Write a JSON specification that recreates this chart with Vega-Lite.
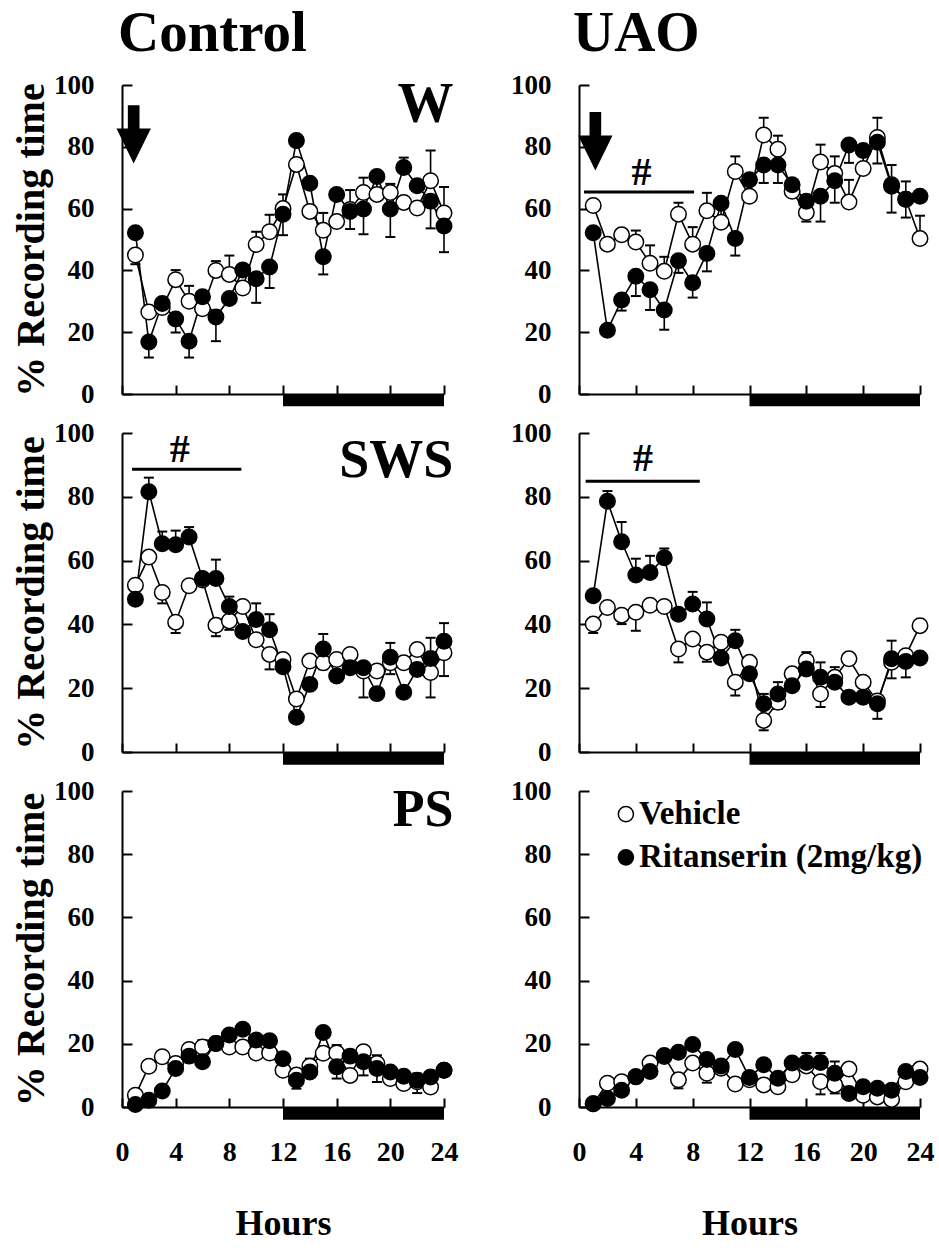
{
  "$schema": "https://vega.github.io/schema/vega-lite/v6.json",
  "background": "white",
  "padding": {"left": 11, "top": 5, "right": 5, "bottom": 5},
  "bounds": "flush",
  "columns": 2,
  "spacing": {"row": 39, "column": 135},
  "config": {
    "view": {"stroke": null},
    "axis": {"grid": false, "domainColor": "black", "domainWidth": 2, "tickColor": "black", "tickWidth": 2, "labelFont": "Liberation Serif", "labelFontWeight": "bold", "labelColor": "black", "titleFont": "Liberation Serif", "titleFontWeight": "bold", "titleColor": "black", "labelOverlap": false, "labelBound": false, "labelFlush": false},
    "axisX": {"tickSize": -9, "labelFontSize": 28, "labelPadding": 40, "titleFontSize": 36, "titlePadding": 40},
    "axisY": {"tickSize": -10, "labelFontSize": 27, "labelPadding": 38, "titleFontSize": 40, "titlePadding": 2},
    "title": {"font": "Liberation Serif", "fontWeight": "bold", "fontSize": 57, "color": "black", "anchor": "start", "frame": "group"}
  },
  "datasets": {
    "d": [
      {"p":"CW","g":"V","h":1,"v":45,"e":42},{"p":"CW","g":"V","h":2,"v":26.5,"e":26.5},{"p":"CW","g":"V","h":3,"v":28,"e":28},{"p":"CW","g":"V","h":4,"v":37,"e":40.1},{"p":"CW","g":"V","h":5,"v":30,"e":35},{"p":"CW","g":"V","h":6,"v":27.6,"e":27.6},{"p":"CW","g":"V","h":7,"v":40,"e":43},{"p":"CW","g":"V","h":8,"v":38.7,"e":44.8},{"p":"CW","g":"V","h":9,"v":34.3,"e":34.3},{"p":"CW","g":"V","h":10,"v":48.4,"e":52.5},{"p":"CW","g":"V","h":11,"v":52.5,"e":58},{"p":"CW","g":"V","h":12,"v":60,"e":64.6},{"p":"CW","g":"V","h":13,"v":74.3,"e":74.3},{"p":"CW","g":"V","h":14,"v":59.1,"e":59.1},{"p":"CW","g":"V","h":15,"v":53,"e":58.6},{"p":"CW","g":"V","h":16,"v":55.8,"e":55.8},{"p":"CW","g":"V","h":17,"v":59.7,"e":66},{"p":"CW","g":"V","h":18,"v":65.2,"e":70},{"p":"CW","g":"V","h":19,"v":64.6,"e":70},{"p":"CW","g":"V","h":20,"v":65.2,"e":68},{"p":"CW","g":"V","h":21,"v":62,"e":62},{"p":"CW","g":"V","h":22,"v":60.2,"e":60.2},{"p":"CW","g":"V","h":23,"v":69,"e":78.8},{"p":"CW","g":"V","h":24,"v":58.6,"e":67},
      {"p":"CW","g":"R","h":1,"v":52.2,"e":52.2},{"p":"CW","g":"R","h":2,"v":16.8,"e":11.8},{"p":"CW","g":"R","h":3,"v":29.3,"e":29.3},{"p":"CW","g":"R","h":4,"v":24.3,"e":19.9},{"p":"CW","g":"R","h":5,"v":17.1,"e":11.8},{"p":"CW","g":"R","h":6,"v":31.5,"e":31.5},{"p":"CW","g":"R","h":7,"v":24.9,"e":17.1},{"p":"CW","g":"R","h":8,"v":30.9,"e":30.9},{"p":"CW","g":"R","h":9,"v":40.1,"e":40.1},{"p":"CW","g":"R","h":10,"v":37.3,"e":29.5},{"p":"CW","g":"R","h":11,"v":41.1,"e":34.3},{"p":"CW","g":"R","h":12,"v":58.2,"e":51.4},{"p":"CW","g":"R","h":13,"v":82,"e":82},{"p":"CW","g":"R","h":14,"v":68.2,"e":68.2},{"p":"CW","g":"R","h":15,"v":44.4,"e":38.7},{"p":"CW","g":"R","h":16,"v":64.6,"e":64.6},{"p":"CW","g":"R","h":17,"v":59.1,"e":53.4},{"p":"CW","g":"R","h":18,"v":59.9,"e":51.7},{"p":"CW","g":"R","h":19,"v":70.4,"e":70.4},{"p":"CW","g":"R","h":20,"v":59.9,"e":50.8},{"p":"CW","g":"R","h":21,"v":73.3,"e":76.5},{"p":"CW","g":"R","h":22,"v":67.4,"e":67.4},{"p":"CW","g":"R","h":23,"v":62.4,"e":53.6},{"p":"CW","g":"R","h":24,"v":54.4,"e":45.9},
      {"p":"UW","g":"V","h":1,"v":61,"e":61},{"p":"UW","g":"V","h":2,"v":48.5,"e":48.5},{"p":"UW","g":"V","h":3,"v":51.5,"e":51.5},{"p":"UW","g":"V","h":4,"v":49.2,"e":52.9},{"p":"UW","g":"V","h":5,"v":42.3,"e":48.1},{"p":"UW","g":"V","h":6,"v":39.7,"e":44.4},{"p":"UW","g":"V","h":7,"v":58.2,"e":61.9},{"p":"UW","g":"V","h":8,"v":48.5,"e":54},{"p":"UW","g":"V","h":9,"v":59.3,"e":65.1},{"p":"UW","g":"V","h":10,"v":55.6,"e":55.6},{"p":"UW","g":"V","h":11,"v":72,"e":76.9},{"p":"UW","g":"V","h":12,"v":64,"e":64},{"p":"UW","g":"V","h":13,"v":83.8,"e":89.4},{"p":"UW","g":"V","h":14,"v":79.2,"e":83.6},{"p":"UW","g":"V","h":15,"v":65.6,"e":65.6},{"p":"UW","g":"V","h":16,"v":58.7,"e":58.7},{"p":"UW","g":"V","h":17,"v":75.1,"e":80.7},{"p":"UW","g":"V","h":18,"v":71.4,"e":76.9},{"p":"UW","g":"V","h":19,"v":62.1,"e":69.3},{"p":"UW","g":"V","h":20,"v":73,"e":76.9},{"p":"UW","g":"V","h":21,"v":83,"e":89.4},{"p":"UW","g":"V","h":22,"v":67.7,"e":74.1},{"p":"UW","g":"V","h":23,"v":63,"e":68.8},{"p":"UW","g":"V","h":24,"v":50.3,"e":57.7},
      {"p":"UW","g":"R","h":1,"v":52.2,"e":52.2},{"p":"UW","g":"R","h":2,"v":20.6,"e":20.6},{"p":"UW","g":"R","h":3,"v":30.4,"e":27},{"p":"UW","g":"R","h":4,"v":38.1,"e":31.7},{"p":"UW","g":"R","h":5,"v":33.7,"e":27.2},{"p":"UW","g":"R","h":6,"v":27.2,"e":20.8},{"p":"UW","g":"R","h":7,"v":43.1,"e":39.2},{"p":"UW","g":"R","h":8,"v":36,"e":31.2},{"p":"UW","g":"R","h":9,"v":45.5,"e":39.7},{"p":"UW","g":"R","h":10,"v":61.7,"e":54},{"p":"UW","g":"R","h":11,"v":50.3,"e":44.8},{"p":"UW","g":"R","h":12,"v":69.3,"e":69.3},{"p":"UW","g":"R","h":13,"v":74.1,"e":68.3},{"p":"UW","g":"R","h":14,"v":74.1,"e":68.3},{"p":"UW","g":"R","h":15,"v":67.7,"e":67.7},{"p":"UW","g":"R","h":16,"v":62.4,"e":55.8},{"p":"UW","g":"R","h":17,"v":64,"e":55.8},{"p":"UW","g":"R","h":18,"v":69,"e":61.9},{"p":"UW","g":"R","h":19,"v":80.6,"e":74.8},{"p":"UW","g":"R","h":20,"v":78.8,"e":78.8},{"p":"UW","g":"R","h":21,"v":81.5,"e":74.6},{"p":"UW","g":"R","h":22,"v":67.2,"e":58.7},{"p":"UW","g":"R","h":23,"v":63,"e":57.1},{"p":"UW","g":"R","h":24,"v":64,"e":64},
      {"p":"CS","g":"V","h":1,"v":52.3,"e":52.3},{"p":"CS","g":"V","h":2,"v":61.1,"e":61.1},{"p":"CS","g":"V","h":3,"v":50,"e":46.6},{"p":"CS","g":"V","h":4,"v":40.7,"e":37.3},{"p":"CS","g":"V","h":5,"v":52.1,"e":52.1},{"p":"CS","g":"V","h":6,"v":53.9,"e":53.9},{"p":"CS","g":"V","h":7,"v":39.7,"e":36.3},{"p":"CS","g":"V","h":8,"v":41.1,"e":38.3},{"p":"CS","g":"V","h":9,"v":45.6,"e":45.6},{"p":"CS","g":"V","h":10,"v":35.2,"e":35.2},{"p":"CS","g":"V","h":11,"v":30.6,"e":25.9},{"p":"CS","g":"V","h":12,"v":29,"e":29},{"p":"CS","g":"V","h":13,"v":16.6,"e":16.6},{"p":"CS","g":"V","h":14,"v":28.5,"e":28.5},{"p":"CS","g":"V","h":15,"v":28,"e":25.9},{"p":"CS","g":"V","h":16,"v":29,"e":29},{"p":"CS","g":"V","h":17,"v":30.6,"e":30.6},{"p":"CS","g":"V","h":18,"v":25.4,"e":17.1},{"p":"CS","g":"V","h":19,"v":25.4,"e":25.4},{"p":"CS","g":"V","h":20,"v":28,"e":24.4},{"p":"CS","g":"V","h":21,"v":28,"e":28},{"p":"CS","g":"V","h":22,"v":32.1,"e":32.1},{"p":"CS","g":"V","h":23,"v":24.9,"e":17.1},{"p":"CS","g":"V","h":24,"v":31.1,"e":23.8},
      {"p":"CS","g":"R","h":1,"v":47.9,"e":47.9},{"p":"CS","g":"R","h":2,"v":81.6,"e":86},{"p":"CS","g":"R","h":3,"v":65.3,"e":69.1},{"p":"CS","g":"R","h":4,"v":65,"e":69.4},{"p":"CS","g":"R","h":5,"v":67.4,"e":70.5},{"p":"CS","g":"R","h":6,"v":54.4,"e":54.4},{"p":"CS","g":"R","h":7,"v":54.4,"e":60.3},{"p":"CS","g":"R","h":8,"v":45.6,"e":48.7},{"p":"CS","g":"R","h":9,"v":37.8,"e":37.8},{"p":"CS","g":"R","h":10,"v":41.5,"e":46.6},{"p":"CS","g":"R","h":11,"v":38.3,"e":43.2},{"p":"CS","g":"R","h":12,"v":26.7,"e":26.7},{"p":"CS","g":"R","h":13,"v":10.9,"e":10.9},{"p":"CS","g":"R","h":14,"v":21.2,"e":21.2},{"p":"CS","g":"R","h":15,"v":32.3,"e":37},{"p":"CS","g":"R","h":16,"v":23.8,"e":23.8},{"p":"CS","g":"R","h":17,"v":26.4,"e":26.4},{"p":"CS","g":"R","h":18,"v":26.4,"e":26.4},{"p":"CS","g":"R","h":19,"v":18.3,"e":18.3},{"p":"CS","g":"R","h":20,"v":29.7,"e":34.2},{"p":"CS","g":"R","h":21,"v":18.7,"e":18.7},{"p":"CS","g":"R","h":22,"v":25.9,"e":25.9},{"p":"CS","g":"R","h":23,"v":29.3,"e":35.8},{"p":"CS","g":"R","h":24,"v":34.7,"e":40.4},
      {"p":"US","g":"V","h":1,"v":40.1,"e":37.3},{"p":"US","g":"V","h":2,"v":45.3,"e":45.3},{"p":"US","g":"V","h":3,"v":42.9,"e":40.1},{"p":"US","g":"V","h":4,"v":43.8,"e":38},{"p":"US","g":"V","h":5,"v":46,"e":46},{"p":"US","g":"V","h":6,"v":45.6,"e":45.6},{"p":"US","g":"V","h":7,"v":32.3,"e":28.1},{"p":"US","g":"V","h":8,"v":35.4,"e":35.4},{"p":"US","g":"V","h":9,"v":31.3,"e":28.3},{"p":"US","g":"V","h":10,"v":34.4,"e":34.4},{"p":"US","g":"V","h":11,"v":21.9,"e":17.7},{"p":"US","g":"V","h":12,"v":28.1,"e":28.1},{"p":"US","g":"V","h":13,"v":9.9,"e":6.8},{"p":"US","g":"V","h":14,"v":15.6,"e":13.5},{"p":"US","g":"V","h":15,"v":24.5,"e":24.5},{"p":"US","g":"V","h":16,"v":28.6,"e":28.6},{"p":"US","g":"V","h":17,"v":18.2,"e":14.1},{"p":"US","g":"V","h":18,"v":23.4,"e":23.4},{"p":"US","g":"V","h":19,"v":29.2,"e":29.2},{"p":"US","g":"V","h":20,"v":21.9,"e":21.9},{"p":"US","g":"V","h":21,"v":16,"e":16},{"p":"US","g":"V","h":22,"v":28.1,"e":23.1},{"p":"US","g":"V","h":23,"v":30.2,"e":30.2},{"p":"US","g":"V","h":24,"v":39.6,"e":39.6},
      {"p":"US","g":"R","h":1,"v":49,"e":49},{"p":"US","g":"R","h":2,"v":78.6,"e":81.8},{"p":"US","g":"R","h":3,"v":65.9,"e":72.1},{"p":"US","g":"R","h":4,"v":55.5,"e":60.6},{"p":"US","g":"R","h":5,"v":56.3,"e":61.5},{"p":"US","g":"R","h":6,"v":60.9,"e":63.8},{"p":"US","g":"R","h":7,"v":43.2,"e":43.2},{"p":"US","g":"R","h":8,"v":46.4,"e":50.2},{"p":"US","g":"R","h":9,"v":41.7,"e":46.9},{"p":"US","g":"R","h":10,"v":29.5,"e":29.5},{"p":"US","g":"R","h":11,"v":34.9,"e":38.3},{"p":"US","g":"R","h":12,"v":24.5,"e":29.2},{"p":"US","g":"R","h":13,"v":15.1,"e":18.2},{"p":"US","g":"R","h":14,"v":18.2,"e":21.9},{"p":"US","g":"R","h":15,"v":20.8,"e":20.8},{"p":"US","g":"R","h":16,"v":26,"e":31.3},{"p":"US","g":"R","h":17,"v":23.4,"e":28.1},{"p":"US","g":"R","h":18,"v":21.9,"e":26.6},{"p":"US","g":"R","h":19,"v":17.2,"e":17.2},{"p":"US","g":"R","h":20,"v":17.2,"e":17.2},{"p":"US","g":"R","h":21,"v":15.1,"e":10.4},{"p":"US","g":"R","h":22,"v":29.2,"e":34.9},{"p":"US","g":"R","h":23,"v":28.4,"e":23.4},{"p":"US","g":"R","h":24,"v":29.5,"e":29.5},
      {"p":"CP","g":"V","h":1,"v":3.7,"e":3.7},{"p":"CP","g":"V","h":2,"v":12.9,"e":12.9},{"p":"CP","g":"V","h":3,"v":15.9,"e":17.5},{"p":"CP","g":"V","h":4,"v":13.8,"e":13.8},{"p":"CP","g":"V","h":5,"v":18.2,"e":18.2},{"p":"CP","g":"V","h":6,"v":19,"e":21.2},{"p":"CP","g":"V","h":7,"v":20.1,"e":22.2},{"p":"CP","g":"V","h":8,"v":19,"e":19},{"p":"CP","g":"V","h":9,"v":19,"e":19},{"p":"CP","g":"V","h":10,"v":17.1,"e":17.1},{"p":"CP","g":"V","h":11,"v":17.1,"e":17.1},{"p":"CP","g":"V","h":12,"v":11.6,"e":11.6},{"p":"CP","g":"V","h":13,"v":10.1,"e":10.1},{"p":"CP","g":"V","h":14,"v":12.9,"e":15.3},{"p":"CP","g":"V","h":15,"v":17,"e":17},{"p":"CP","g":"V","h":16,"v":17.1,"e":19.6},{"p":"CP","g":"V","h":17,"v":10,"e":10},{"p":"CP","g":"V","h":18,"v":17.5,"e":19.3},{"p":"CP","g":"V","h":19,"v":13.8,"e":16.4},{"p":"CP","g":"V","h":20,"v":9,"e":9},{"p":"CP","g":"V","h":21,"v":7.4,"e":7.4},{"p":"CP","g":"V","h":22,"v":8,"e":10.6},{"p":"CP","g":"V","h":23,"v":6.3,"e":6.3},{"p":"CP","g":"V","h":24,"v":11.6,"e":11.6},
      {"p":"CP","g":"R","h":1,"v":0.8,"e":0.8},{"p":"CP","g":"R","h":2,"v":2.1,"e":2.1},{"p":"CP","g":"R","h":3,"v":5.1,"e":5.1},{"p":"CP","g":"R","h":4,"v":12.2,"e":12.2},{"p":"CP","g":"R","h":5,"v":16.1,"e":16.1},{"p":"CP","g":"R","h":6,"v":14.3,"e":14.3},{"p":"CP","g":"R","h":7,"v":20.1,"e":20.1},{"p":"CP","g":"R","h":8,"v":22.8,"e":22.8},{"p":"CP","g":"R","h":9,"v":24.6,"e":24.6},{"p":"CP","g":"R","h":10,"v":21.2,"e":21.2},{"p":"CP","g":"R","h":11,"v":21,"e":21},{"p":"CP","g":"R","h":12,"v":15.3,"e":15.3},{"p":"CP","g":"R","h":13,"v":8.5,"e":5.8},{"p":"CP","g":"R","h":14,"v":11.1,"e":11.1},{"p":"CP","g":"R","h":15,"v":23.6,"e":23.6},{"p":"CP","g":"R","h":16,"v":12.7,"e":9},{"p":"CP","g":"R","h":17,"v":16.1,"e":16.1},{"p":"CP","g":"R","h":18,"v":14.3,"e":10},{"p":"CP","g":"R","h":19,"v":12.2,"e":7.9},{"p":"CP","g":"R","h":20,"v":11.1,"e":11.1},{"p":"CP","g":"R","h":21,"v":9.7,"e":9.7},{"p":"CP","g":"R","h":22,"v":8.5,"e":4.4},{"p":"CP","g":"R","h":23,"v":9.5,"e":9.5},{"p":"CP","g":"R","h":24,"v":11.6,"e":11.6},
      {"p":"UP","g":"V","h":1,"v":1,"e":1},{"p":"UP","g":"V","h":2,"v":7.5,"e":7.5},{"p":"UP","g":"V","h":3,"v":8,"e":8},{"p":"UP","g":"V","h":4,"v":9.6,"e":9.6},{"p":"UP","g":"V","h":5,"v":13.9,"e":13.9},{"p":"UP","g":"V","h":6,"v":16,"e":16},{"p":"UP","g":"V","h":7,"v":8.6,"e":5.9},{"p":"UP","g":"V","h":8,"v":13.9,"e":13.9},{"p":"UP","g":"V","h":9,"v":10.7,"e":7.7},{"p":"UP","g":"V","h":10,"v":12.3,"e":12.3},{"p":"UP","g":"V","h":11,"v":7.3,"e":7.3},{"p":"UP","g":"V","h":12,"v":8.6,"e":8.6},{"p":"UP","g":"V","h":13,"v":7,"e":7},{"p":"UP","g":"V","h":14,"v":6.4,"e":6.4},{"p":"UP","g":"V","h":15,"v":10.2,"e":10.2},{"p":"UP","g":"V","h":16,"v":13,"e":17.1},{"p":"UP","g":"V","h":17,"v":8,"e":4},{"p":"UP","g":"V","h":18,"v":7,"e":4.3},{"p":"UP","g":"V","h":19,"v":12,"e":12},{"p":"UP","g":"V","h":20,"v":3.7,"e":3.7},{"p":"UP","g":"V","h":21,"v":3.2,"e":3.2},{"p":"UP","g":"V","h":22,"v":2.4,"e":2.4},{"p":"UP","g":"V","h":23,"v":8,"e":8},{"p":"UP","g":"V","h":24,"v":12,"e":12},
      {"p":"UP","g":"R","h":1,"v":1,"e":1},{"p":"UP","g":"R","h":2,"v":2.7,"e":2.7},{"p":"UP","g":"R","h":3,"v":5.3,"e":5.3},{"p":"UP","g":"R","h":4,"v":9.6,"e":9.6},{"p":"UP","g":"R","h":5,"v":11.2,"e":11.2},{"p":"UP","g":"R","h":6,"v":16.3,"e":16.3},{"p":"UP","g":"R","h":7,"v":17.3,"e":17.3},{"p":"UP","g":"R","h":8,"v":19.8,"e":19.8},{"p":"UP","g":"R","h":9,"v":15,"e":15},{"p":"UP","g":"R","h":10,"v":13,"e":13},{"p":"UP","g":"R","h":11,"v":18.2,"e":18.2},{"p":"UP","g":"R","h":12,"v":9.3,"e":9.3},{"p":"UP","g":"R","h":13,"v":13.4,"e":13.4},{"p":"UP","g":"R","h":14,"v":9.1,"e":9.1},{"p":"UP","g":"R","h":15,"v":13.9,"e":13.9},{"p":"UP","g":"R","h":16,"v":14.1,"e":14.1},{"p":"UP","g":"R","h":17,"v":14.1,"e":17.1},{"p":"UP","g":"R","h":18,"v":10.7,"e":14.4},{"p":"UP","g":"R","h":19,"v":4.3,"e":4.3},{"p":"UP","g":"R","h":20,"v":6.4,"e":6.4},{"p":"UP","g":"R","h":21,"v":5.9,"e":5.9},{"p":"UP","g":"R","h":22,"v":5.3,"e":5.3},{"p":"UP","g":"R","h":23,"v":11.2,"e":11.2},{"p":"UP","g":"R","h":24,"v":9.3,"e":9.3}
    ]
  },
  "concat": [
    {
      "width": 322, "height": 309,
      "title": {"text": "Control", "offset": 8, "dx": -4},
      "data": {"name": "d"},
      "transform": [{"filter": "datum.p === 'CW'"}],
      "layer": [
        {"data": {"values": [{"h": 12, "h2": 24}]}, "mark": {"type": "rect", "color": "black"}, "encoding": {"x": {"field": "h", "type": "quantitative"}, "x2": {"field": "h2"}, "y": {"datum": 0, "type": "quantitative"}, "y2": {"datum": -4}}},
        {"data": {"values": [{"h": 0.87, "v": 84}]}, "mark": {"type": "point", "shape": "M-0.2,-1L0.2,-1L0.2,-0.2L0.59,-0.2L0,1L-0.59,-0.2L-0.2,-0.2Z", "size": 3400, "filled": true, "fill": "black", "strokeWidth": 0, "opacity": 1}, "encoding": {"x": {"field": "h", "type": "quantitative"}, "y": {"field": "v", "type": "quantitative"}}},
        {"mark": {"type": "rule", "color": "black", "strokeWidth": 1.6}, "encoding": {"x": {"field": "h", "type": "quantitative"}, "y": {"field": "v", "type": "quantitative"}, "y2": {"field": "e"}}},
        {"mark": {"type": "tick", "orient": "horizontal", "color": "black", "size": 10, "thickness": 2, "opacity": 1}, "encoding": {"x": {"field": "h", "type": "quantitative"}, "y": {"field": "e", "type": "quantitative"}}},
        {"mark": {"type": "line", "color": "black", "strokeWidth": 1.6}, "encoding": {"x": {"field": "h", "type": "quantitative", "scale": {"domain": [0, 24], "nice": false}, "axis": {"values": [0,2,4,6,8,10,12,14,16,18,20,22,24], "labels": false, "title": null}}, "y": {"field": "v", "type": "quantitative", "scale": {"domain": [0, 100], "nice": false}, "axis": {"values": [0,20,40,60,80,100], "title": "% Recording time"}}, "detail": {"field": "g"}}},
        {"transform": [{"filter": "datum.g === 'V'"}], "mark": {"type": "circle", "size": 240, "fill": "white", "stroke": "black", "strokeWidth": 1.5, "opacity": 1}, "encoding": {"x": {"field": "h", "type": "quantitative"}, "y": {"field": "v", "type": "quantitative"}}},
        {"transform": [{"filter": "datum.g === 'R'"}], "mark": {"type": "circle", "size": 240, "fill": "black", "stroke": "black", "strokeWidth": 1.5, "opacity": 1}, "encoding": {"x": {"field": "h", "type": "quantitative"}, "y": {"field": "v", "type": "quantitative"}}},
        {"data": {"values": [{"h": 24.7, "v": 93.4, "t": "W"}]}, "mark": {"type": "text", "font": "Liberation Serif", "fontWeight": "bold", "fontSize": 56, "align": "right", "baseline": "middle", "color": "black"}, "encoding": {"x": {"field": "h", "type": "quantitative"}, "y": {"field": "v", "type": "quantitative"}, "text": {"field": "t"}}}
      ]
    },
    {
      "width": 341, "height": 309,
      "title": {"text": "UAO", "offset": 8, "dx": -6},
      "data": {"name": "d"},
      "transform": [{"filter": "datum.p === 'UW'"}],
      "layer": [
        {"data": {"values": [{"h": 12, "h2": 24}]}, "mark": {"type": "rect", "color": "black"}, "encoding": {"x": {"field": "h", "type": "quantitative"}, "x2": {"field": "h2"}, "y": {"datum": 0, "type": "quantitative"}, "y2": {"datum": -4}}},
        {"data": {"values": [{"h": 1.15, "v": 81.8}]}, "mark": {"type": "point", "shape": "M-0.2,-1L0.2,-1L0.2,-0.2L0.59,-0.2L0,1L-0.59,-0.2L-0.2,-0.2Z", "size": 3400, "filled": true, "fill": "black", "strokeWidth": 0, "opacity": 1}, "encoding": {"x": {"field": "h", "type": "quantitative"}, "y": {"field": "v", "type": "quantitative"}}},
        {"data": {"values": [{"h": 0.35, "h2": 8.1, "v": 65.4}]}, "mark": {"type": "rule", "color": "black", "strokeWidth": 3}, "encoding": {"x": {"field": "h", "type": "quantitative"}, "x2": {"field": "h2"}, "y": {"field": "v", "type": "quantitative"}}},
        {"data": {"values": [{"h": 4.4, "v": 71.4, "t": "#"}]}, "mark": {"type": "text", "font": "Liberation Serif", "fontWeight": "bold", "fontSize": 40, "align": "center", "baseline": "middle", "color": "black"}, "encoding": {"x": {"field": "h", "type": "quantitative"}, "y": {"field": "v", "type": "quantitative"}, "text": {"field": "t"}}},
        {"mark": {"type": "rule", "color": "black", "strokeWidth": 1.6}, "encoding": {"x": {"field": "h", "type": "quantitative"}, "y": {"field": "v", "type": "quantitative"}, "y2": {"field": "e"}}},
        {"mark": {"type": "tick", "orient": "horizontal", "color": "black", "size": 10, "thickness": 2, "opacity": 1}, "encoding": {"x": {"field": "h", "type": "quantitative"}, "y": {"field": "e", "type": "quantitative"}}},
        {"mark": {"type": "line", "color": "black", "strokeWidth": 1.6}, "encoding": {"x": {"field": "h", "type": "quantitative", "scale": {"domain": [0, 24], "nice": false}, "axis": {"values": [0,2,4,6,8,10,12,14,16,18,20,22,24], "labels": false, "title": null}}, "y": {"field": "v", "type": "quantitative", "scale": {"domain": [0, 100], "nice": false}, "axis": {"values": [0,20,40,60,80,100], "title": null}}, "detail": {"field": "g"}}},
        {"transform": [{"filter": "datum.g === 'V'"}], "mark": {"type": "circle", "size": 240, "fill": "white", "stroke": "black", "strokeWidth": 1.5, "opacity": 1}, "encoding": {"x": {"field": "h", "type": "quantitative"}, "y": {"field": "v", "type": "quantitative"}}},
        {"transform": [{"filter": "datum.g === 'R'"}], "mark": {"type": "circle", "size": 240, "fill": "black", "stroke": "black", "strokeWidth": 1.5, "opacity": 1}, "encoding": {"x": {"field": "h", "type": "quantitative"}, "y": {"field": "v", "type": "quantitative"}}}
      ]
    },
    {
      "width": 322, "height": 319,
      "data": {"name": "d"},
      "transform": [{"filter": "datum.p === 'CS'"}],
      "layer": [
        {"data": {"values": [{"h": 12, "h2": 24}]}, "mark": {"type": "rect", "color": "black"}, "encoding": {"x": {"field": "h", "type": "quantitative"}, "x2": {"field": "h2"}, "y": {"datum": 0, "type": "quantitative"}, "y2": {"datum": -4}}},
        {"data": {"values": [{"h": 0.75, "h2": 8.9, "v": 88.6}]}, "mark": {"type": "rule", "color": "black", "strokeWidth": 3}, "encoding": {"x": {"field": "h", "type": "quantitative"}, "x2": {"field": "h2"}, "y": {"field": "v", "type": "quantitative"}}},
        {"data": {"values": [{"h": 4.3, "v": 94.7, "t": "#"}]}, "mark": {"type": "text", "font": "Liberation Serif", "fontWeight": "bold", "fontSize": 40, "align": "center", "baseline": "middle", "color": "black"}, "encoding": {"x": {"field": "h", "type": "quantitative"}, "y": {"field": "v", "type": "quantitative"}, "text": {"field": "t"}}},
        {"mark": {"type": "rule", "color": "black", "strokeWidth": 1.6}, "encoding": {"x": {"field": "h", "type": "quantitative"}, "y": {"field": "v", "type": "quantitative"}, "y2": {"field": "e"}}},
        {"mark": {"type": "tick", "orient": "horizontal", "color": "black", "size": 10, "thickness": 2, "opacity": 1}, "encoding": {"x": {"field": "h", "type": "quantitative"}, "y": {"field": "e", "type": "quantitative"}}},
        {"mark": {"type": "line", "color": "black", "strokeWidth": 1.6}, "encoding": {"x": {"field": "h", "type": "quantitative", "scale": {"domain": [0, 24], "nice": false}, "axis": {"values": [0,2,4,6,8,10,12,14,16,18,20,22,24], "labels": false, "title": null}}, "y": {"field": "v", "type": "quantitative", "scale": {"domain": [0, 100], "nice": false}, "axis": {"values": [0,20,40,60,80,100], "title": "% Recording time"}}, "detail": {"field": "g"}}},
        {"transform": [{"filter": "datum.g === 'V'"}], "mark": {"type": "circle", "size": 240, "fill": "white", "stroke": "black", "strokeWidth": 1.5, "opacity": 1}, "encoding": {"x": {"field": "h", "type": "quantitative"}, "y": {"field": "v", "type": "quantitative"}}},
        {"transform": [{"filter": "datum.g === 'R'"}], "mark": {"type": "circle", "size": 240, "fill": "black", "stroke": "black", "strokeWidth": 1.5, "opacity": 1}, "encoding": {"x": {"field": "h", "type": "quantitative"}, "y": {"field": "v", "type": "quantitative"}}},
        {"data": {"values": [{"h": 24.7, "v": 91.1, "t": "SWS"}]}, "mark": {"type": "text", "font": "Liberation Serif", "fontWeight": "bold", "fontSize": 54, "align": "right", "baseline": "middle", "color": "black"}, "encoding": {"x": {"field": "h", "type": "quantitative"}, "y": {"field": "v", "type": "quantitative"}, "text": {"field": "t"}}}
      ]
    },
    {
      "width": 341, "height": 319,
      "data": {"name": "d"},
      "transform": [{"filter": "datum.p === 'US'"}],
      "layer": [
        {"data": {"values": [{"h": 12, "h2": 24}]}, "mark": {"type": "rect", "color": "black"}, "encoding": {"x": {"field": "h", "type": "quantitative"}, "x2": {"field": "h2"}, "y": {"datum": 0, "type": "quantitative"}, "y2": {"datum": -4}}},
        {"data": {"values": [{"h": 0.47, "h2": 8.5, "v": 84.9}]}, "mark": {"type": "rule", "color": "black", "strokeWidth": 3}, "encoding": {"x": {"field": "h", "type": "quantitative"}, "x2": {"field": "h2"}, "y": {"field": "v", "type": "quantitative"}}},
        {"data": {"values": [{"h": 4.5, "v": 91.7, "t": "#"}]}, "mark": {"type": "text", "font": "Liberation Serif", "fontWeight": "bold", "fontSize": 40, "align": "center", "baseline": "middle", "color": "black"}, "encoding": {"x": {"field": "h", "type": "quantitative"}, "y": {"field": "v", "type": "quantitative"}, "text": {"field": "t"}}},
        {"mark": {"type": "rule", "color": "black", "strokeWidth": 1.6}, "encoding": {"x": {"field": "h", "type": "quantitative"}, "y": {"field": "v", "type": "quantitative"}, "y2": {"field": "e"}}},
        {"mark": {"type": "tick", "orient": "horizontal", "color": "black", "size": 10, "thickness": 2, "opacity": 1}, "encoding": {"x": {"field": "h", "type": "quantitative"}, "y": {"field": "e", "type": "quantitative"}}},
        {"mark": {"type": "line", "color": "black", "strokeWidth": 1.6}, "encoding": {"x": {"field": "h", "type": "quantitative", "scale": {"domain": [0, 24], "nice": false}, "axis": {"values": [0,2,4,6,8,10,12,14,16,18,20,22,24], "labels": false, "title": null}}, "y": {"field": "v", "type": "quantitative", "scale": {"domain": [0, 100], "nice": false}, "axis": {"values": [0,20,40,60,80,100], "title": null}}, "detail": {"field": "g"}}},
        {"transform": [{"filter": "datum.g === 'V'"}], "mark": {"type": "circle", "size": 240, "fill": "white", "stroke": "black", "strokeWidth": 1.5, "opacity": 1}, "encoding": {"x": {"field": "h", "type": "quantitative"}, "y": {"field": "v", "type": "quantitative"}}},
        {"transform": [{"filter": "datum.g === 'R'"}], "mark": {"type": "circle", "size": 240, "fill": "black", "stroke": "black", "strokeWidth": 1.5, "opacity": 1}, "encoding": {"x": {"field": "h", "type": "quantitative"}, "y": {"field": "v", "type": "quantitative"}}}
      ]
    },
    {
      "width": 322, "height": 316,
      "data": {"name": "d"},
      "transform": [{"filter": "datum.p === 'CP'"}],
      "layer": [
        {"data": {"values": [{"h": 12, "h2": 24}]}, "mark": {"type": "rect", "color": "black"}, "encoding": {"x": {"field": "h", "type": "quantitative"}, "x2": {"field": "h2"}, "y": {"datum": 0, "type": "quantitative"}, "y2": {"datum": -4}}},
        {"mark": {"type": "rule", "color": "black", "strokeWidth": 1.6}, "encoding": {"x": {"field": "h", "type": "quantitative"}, "y": {"field": "v", "type": "quantitative"}, "y2": {"field": "e"}}},
        {"mark": {"type": "tick", "orient": "horizontal", "color": "black", "size": 10, "thickness": 2, "opacity": 1}, "encoding": {"x": {"field": "h", "type": "quantitative"}, "y": {"field": "e", "type": "quantitative"}}},
        {"mark": {"type": "line", "color": "black", "strokeWidth": 1.6}, "encoding": {"x": {"field": "h", "type": "quantitative", "scale": {"domain": [0, 24], "nice": false}, "axis": {"values": [0,2,4,6,8,10,12,14,16,18,20,22,24], "title": "Hours", "labelExpr": "datum.value % 4 === 0 ? datum.label : ''"}}, "y": {"field": "v", "type": "quantitative", "scale": {"domain": [0, 100], "nice": false}, "axis": {"values": [0,20,40,60,80,100], "title": "% Recording time"}}, "detail": {"field": "g"}}},
        {"transform": [{"filter": "datum.g === 'V'"}], "mark": {"type": "circle", "size": 240, "fill": "white", "stroke": "black", "strokeWidth": 1.5, "opacity": 1}, "encoding": {"x": {"field": "h", "type": "quantitative"}, "y": {"field": "v", "type": "quantitative"}}},
        {"transform": [{"filter": "datum.g === 'R'"}], "mark": {"type": "circle", "size": 240, "fill": "black", "stroke": "black", "strokeWidth": 1.5, "opacity": 1}, "encoding": {"x": {"field": "h", "type": "quantitative"}, "y": {"field": "v", "type": "quantitative"}}},
        {"data": {"values": [{"h": 24.7, "v": 94, "t": "PS"}]}, "mark": {"type": "text", "font": "Liberation Serif", "fontWeight": "bold", "fontSize": 52, "align": "right", "baseline": "middle", "color": "black"}, "encoding": {"x": {"field": "h", "type": "quantitative"}, "y": {"field": "v", "type": "quantitative"}, "text": {"field": "t"}}}
      ]
    },
    {
      "width": 341, "height": 316,
      "data": {"name": "d"},
      "transform": [{"filter": "datum.p === 'UP'"}],
      "layer": [
        {"data": {"values": [{"h": 12, "h2": 24}]}, "mark": {"type": "rect", "color": "black"}, "encoding": {"x": {"field": "h", "type": "quantitative"}, "x2": {"field": "h2"}, "y": {"datum": 0, "type": "quantitative"}, "y2": {"datum": -4}}},
        {"mark": {"type": "rule", "color": "black", "strokeWidth": 1.6}, "encoding": {"x": {"field": "h", "type": "quantitative"}, "y": {"field": "v", "type": "quantitative"}, "y2": {"field": "e"}}},
        {"mark": {"type": "tick", "orient": "horizontal", "color": "black", "size": 10, "thickness": 2, "opacity": 1}, "encoding": {"x": {"field": "h", "type": "quantitative"}, "y": {"field": "e", "type": "quantitative"}}},
        {"mark": {"type": "line", "color": "black", "strokeWidth": 1.6}, "encoding": {"x": {"field": "h", "type": "quantitative", "scale": {"domain": [0, 24], "nice": false}, "axis": {"values": [0,2,4,6,8,10,12,14,16,18,20,22,24], "title": "Hours", "labelExpr": "datum.value % 4 === 0 ? datum.label : ''"}}, "y": {"field": "v", "type": "quantitative", "scale": {"domain": [0, 100], "nice": false}, "axis": {"values": [0,20,40,60,80,100], "title": null}}, "detail": {"field": "g"}}},
        {"transform": [{"filter": "datum.g === 'V'"}], "mark": {"type": "circle", "size": 240, "fill": "white", "stroke": "black", "strokeWidth": 1.5, "opacity": 1}, "encoding": {"x": {"field": "h", "type": "quantitative"}, "y": {"field": "v", "type": "quantitative"}}},
        {"transform": [{"filter": "datum.g === 'R'"}], "mark": {"type": "circle", "size": 240, "fill": "black", "stroke": "black", "strokeWidth": 1.5, "opacity": 1}, "encoding": {"x": {"field": "h", "type": "quantitative"}, "y": {"field": "v", "type": "quantitative"}}},
        {"data": {"values": [{"h": 3.3, "v": 92.7, "g": "V", "t": "Vehicle"}, {"h": 3.3, "v": 79, "g": "R", "t": "Ritanserin (2mg/kg)"}]}, "layer": [
          {"transform": [{"filter": "datum.g === 'V'"}], "mark": {"type": "circle", "size": 230, "fill": "white", "stroke": "black", "strokeWidth": 1.5, "opacity": 1}, "encoding": {"x": {"field": "h", "type": "quantitative"}, "y": {"field": "v", "type": "quantitative"}}},
          {"transform": [{"filter": "datum.g === 'R'"}], "mark": {"type": "circle", "size": 230, "fill": "black", "stroke": "black", "strokeWidth": 1.5, "opacity": 1}, "encoding": {"x": {"field": "h", "type": "quantitative"}, "y": {"field": "v", "type": "quantitative"}}},
          {"mark": {"type": "text", "font": "Liberation Serif", "fontWeight": "bold", "fontSize": 33, "align": "left", "baseline": "middle", "dx": 13, "color": "black"}, "encoding": {"x": {"field": "h", "type": "quantitative"}, "y": {"field": "v", "type": "quantitative"}, "text": {"field": "t"}}}
        ]}
      ]
    }
  ]
}
